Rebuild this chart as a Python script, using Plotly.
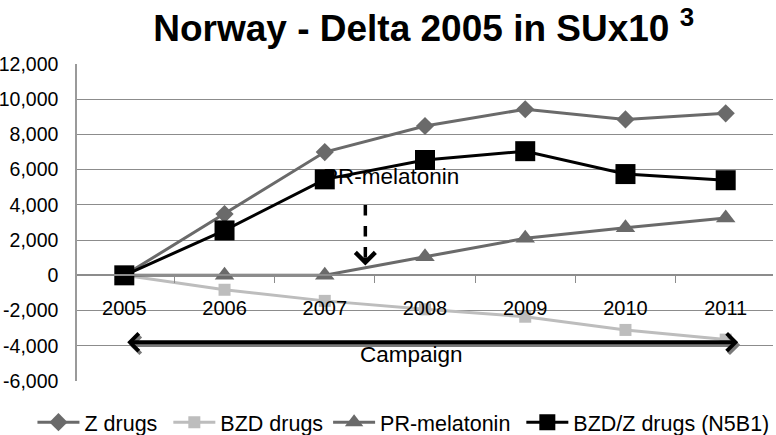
import plotly.graph_objects as go

years = ["2005", "2006", "2007", "2008", "2009", "2010", "2011"]
z_drugs = [0, 3480, 7000, 8480, 9430, 8850, 9200]
bzd_drugs = [0, -820, -1450, -1930, -2350, -3100, -3650]
pr_melatonin = [0, 0, 0, 1050, 2100, 2700, 3250]
bzd_z_n5b1 = [0, 2550, 5450, 6550, 7050, 5750, 5400]

y_ticks = [-6000, -4000, -2000, 0, 2000, 4000, 6000, 8000, 10000, 12000]
y_tick_labels = ["-6,000", "-4,000", "-2,000", "0", "2,000", "4,000",
                 "6,000", "8,000", "10,000", "12,000"]

FONT = "Liberation Sans, Arial, Helvetica, sans-serif"
DARK = "#6a6a6a"
LIGHT = "#bdbdbd"
GRID = "#8c8c8c"
SP = "\u00a0"

fig = go.Figure()
fig.add_trace(go.Scatter(x=years, y=z_drugs, name="Z drugs" + SP, mode="lines+markers",
                         line=dict(color=DARK, width=3),
                         marker=dict(symbol="diamond", size=14, color=DARK)))
fig.add_trace(go.Scatter(x=years, y=bzd_drugs, name="BZD drugs", mode="lines+markers",
                         line=dict(color=LIGHT, width=3),
                         marker=dict(symbol="square", size=12, color=LIGHT)))
fig.add_trace(go.Scatter(x=years, y=pr_melatonin, name="PR-melatonin" + SP, mode="lines+markers",
                         line=dict(color=DARK, width=3),
                         marker=dict(symbol="triangle-up", size=17, color=DARK)))
# label drawn beneath the black squares
fig.add_trace(go.Scatter(x=[2.66], y=[5500], xaxis="x2", mode="text",
                         text=["PR-melatonin"], showlegend=False, hoverinfo="skip",
                         textfont=dict(family=FONT, size=22.5, color="black")))
fig.add_trace(go.Scatter(x=years, y=bzd_z_n5b1, name="BZD/Z drugs (N5B1)", mode="lines+markers",
                         line=dict(color="black", width=3),
                         marker=dict(symbol="square", size=20, color="black")))

# dashed arrow
fig.add_shape(type="line", xref="x2", yref="y", x0=2.40, x1=2.40, y0=4000, y1=900,
              line=dict(color="black", width=3.5, dash="dash"))
fig.add_annotation(xref="x2", yref="y", axref="x2", ayref="y", x=2.40, y=560,
                   ax=2.40, ay=1100, text="", showarrow=True, arrowhead=4,
                   arrowsize=1.1, arrowwidth=3.5, arrowcolor="black")

# campaign double arrow (shadow + arrow)
fig.add_annotation(xref="x2", yref="y", axref="x2", ayref="y", x=6.17, y=-3950,
                   ax=0.01, ay=-3950, text="", showarrow=True, arrowhead=4,
                   startarrowhead=4, arrowside="end+start", arrowsize=0.85,
                   startarrowsize=0.85, arrowwidth=4, arrowcolor="#7a7a7a")
fig.add_annotation(xref="x2", yref="y", axref="x2", ayref="y", x=6.15, y=-3800,
                   ax=-0.01, ay=-3800, text="", showarrow=True, arrowhead=4,
                   startarrowhead=4, arrowside="end+start", arrowsize=0.85,
                   startarrowsize=0.85, arrowwidth=4, arrowcolor="black")
fig.add_annotation(xref="x2", yref="y", x=2.86, y=-4480, text="Campaign",
                   showarrow=False, font=dict(family=FONT, size=22.5, color="black"))

fig.update_layout(
    width=776, height=435,
    margin=dict(l=77, r=3, t=64, b=54, autoexpand=False),
    paper_bgcolor="white", plot_bgcolor="white",
    font=dict(family=FONT, color="black"),
    title=dict(text="<b>Norway - Delta 2005 in SUx10 <sup>3</sup></b>",
               font=dict(family=FONT, size=37, color="black"),
               x=0.546, xref="container", xanchor="center",
               y=0.935, yref="container", yanchor="middle"),
    xaxis=dict(type="category", anchor="free", position=1/3, automargin=False,
               showline=True, linecolor=GRID, linewidth=1.5,
               ticks="outside", tickson="boundaries", ticklen=7, tickcolor=GRID,
               showgrid=False, zeroline=False, layer="above traces",
               tickfont=dict(family=FONT, size=20, color="black"),
               ticklabelstandoff=15),
    xaxis2=dict(range=[-0.5, 6.5], overlaying="x", visible=False),
    yaxis=dict(range=[-6000, 12000], tickvals=y_ticks, ticktext=y_tick_labels,
               automargin=False,
               showline=True, linecolor="#9a9a9a", linewidth=1.5,
               showgrid=True, gridcolor=GRID, gridwidth=1.2, zeroline=False,
               ticks="", ticklabelstandoff=13,
               tickfont=dict(family=FONT, size=19.5, color="black")),
    legend=dict(orientation="h", x=-0.064, xanchor="left", y=-0.13, yanchor="middle",
                font=dict(family=FONT, size=21.5, color="black"),
                itemwidth=42, traceorder="normal", bgcolor="rgba(0,0,0,0)"),
    showlegend=True,
)

fig.write_html("out.html", config={"displayModeBar": False},
               post_script="document.body.style.margin='0';document.body.style.overflow='hidden';")
